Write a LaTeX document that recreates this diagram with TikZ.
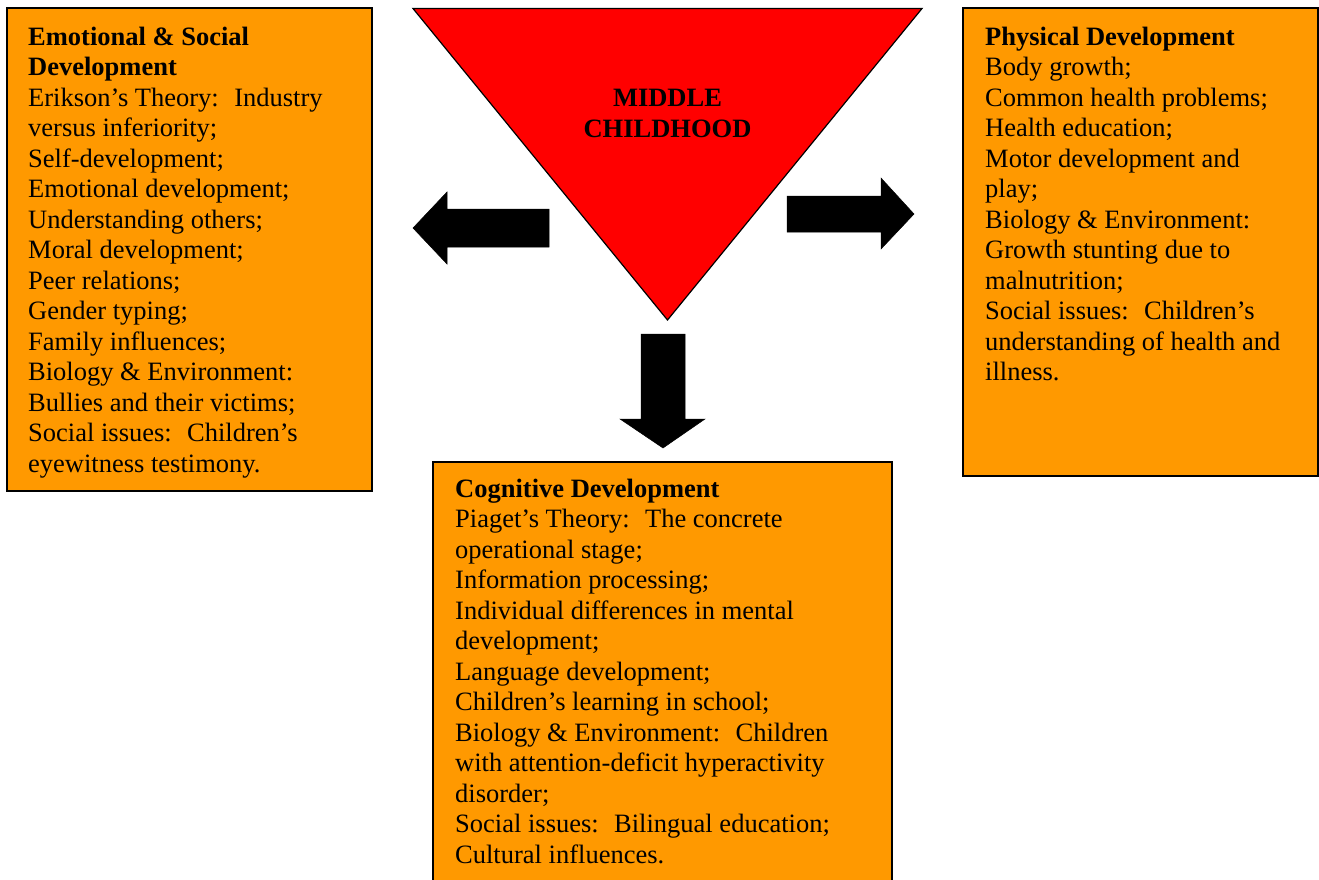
\documentclass[tikz,border=0pt]{standalone}
\usepackage{fontspec}
\setmainfont{Liberation Serif}
\definecolor{boxorange}{HTML}{FF9900}
\definecolor{hubred}{HTML}{FF0000}
\begin{document}
\begin{tikzpicture}[x=1pt,y=-1pt,
  topicbox/.style={draw=black, line width=1.2pt, fill=boxorange},
  % multi-line nodes: the base anchor sits on the baseline of the last line
  topictext/.style={anchor=base west, inner sep=0pt, align=left,
    font=\fontsize{26.5}{30.5}\selectfont},
  hubtext/.style={anchor=base, inner sep=0pt, align=center,
    font=\fontsize{26.5}{31}\selectfont\bfseries},
  blockarrow/.style={fill=black, draw=black, line width=0.5pt}]
\useasboundingbox (0,0) rectangle (1319,879);
\clip (0,0) rectangle (1319,879);

% central triangle
\coordinate (tl) at (413,8.5);
\coordinate (tr) at (922,8.5);
\coordinate (apex) at (667.5,320);
\draw[fill=hubred, line width=1.2pt, line join=miter] (tl) -- (tr) -- (apex) -- cycle;
\node[hubtext] (hub) at (667.5,137) {MIDDLE\\CHILDHOOD};

% the three topic boxes
\draw[topicbox] (7,8) rectangle (372,491);
\draw[topicbox] (963,8) rectangle (1318,476);
\draw[topicbox] (433,462) rectangle (892,900);

\node[topictext] (emo) at (28,472) {\textbf{Emotional \& Social}\\
\textbf{Development}\\
Erikson’s Theory:~ Industry\\
versus inferiority;\\
Self-development;\\
Emotional development;\\
Understanding others;\\
Moral development;\\
Peer relations;\\
Gender typing;\\
Family influences;\\
Biology \& Environment:\\
Bullies and their victims;\\
Social issues:~ Children’s\\
eyewitness testimony.};

\node[topictext] (phys) at (985,380.5) {\textbf{Physical Development}\\
Body growth;\\
Common health problems;\\
Health education;\\
Motor development and\\
play;\\
Biology \& Environment:\\
Growth stunting due to\\
malnutrition;\\
Social issues:~ Children’s\\
understanding of health and\\
illness.};

\node[topictext] (cog) at (455,863) {\textbf{Cognitive Development}\\
Piaget’s Theory:~ The concrete\\
operational stage;\\
Information processing;\\
Individual differences in mental\\
development;\\
Language development;\\
Children’s learning in school;\\
Biology \& Environment:~ Children\\
with attention-deficit hyperactivity\\
disorder;\\
Social issues:~ Bilingual education;\\
Cultural influences.};

% block arrows pointing out of the triangle
\fill[blockarrow] (549,209) -- (447,209) -- (447,192) -- (413,228) -- (447,264)
  -- (447,247) -- (549,247) -- cycle;
\fill[blockarrow] (787,196) -- (881,196) -- (881,178) -- (914,214) -- (881,249)
  -- (881,232) -- (787,232) -- cycle;
\fill[blockarrow] (641,334) -- (685,334) -- (685,419) -- (705,419) -- (663,448)
  -- (620,419) -- (641,419) -- cycle;
\end{tikzpicture}
\end{document}
